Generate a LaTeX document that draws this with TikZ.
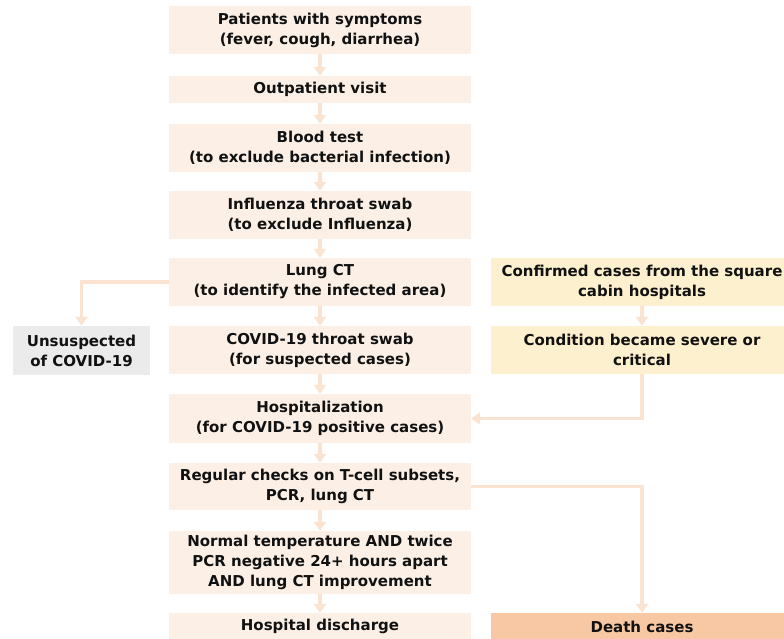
\documentclass[tikz,border=0pt]{standalone}
\usepackage{fontspec}
\setmainfont{DejaVu Sans}
\usetikzlibrary{arrows.meta}
\definecolor{boxfill}{HTML}{FCF0E6}
\definecolor{arrowc}{HTML}{FBE3D2}
\definecolor{yellowfill}{HTML}{FDF0CE}
\definecolor{deathfill}{HTML}{F8C8A5}
\definecolor{greyfill}{HTML}{EBEBEB}
\definecolor{txt}{HTML}{111111}
\begin{document}
\begin{tikzpicture}[x=1pt,y=-1pt,
  box/.style={rectangle, fill=boxfill, minimum width=302pt, inner sep=0pt, align=center,
    font=\bfseries\fontsize{15}{20}\selectfont, text=txt},
  ybox/.style={box, fill=yellowfill},
  flow/.style={draw=arrowc, line width=3.5pt, -{Triangle[width=12pt,length=9pt]}}]
\useasboundingbox (0,0) rectangle (784,638);
\clip (0,0) rectangle (784,638);
\node[box, minimum height=48pt] (b1) at (320,30) {Patients with symptoms\\(fever, cough, diarrhea)};
\node[box, minimum height=27pt] (b2) at (320,89.5) {Outpatient visit};
\node[box, minimum height=48pt] (b3) at (320,148) {Blood test\\(to exclude bacterial infection)};
\node[box, minimum height=48pt] (b4) at (320,215) {Influenza throat swab\\(to exclude Influenza)};
\node[box, minimum height=48pt] (b5) at (320,282) {Lung CT\\(to identify the infected area)};
\node[box, minimum height=48pt] (b6) at (320,350) {COVID-19 throat swab\\(for suspected cases)};
\node[box, minimum height=49pt] (b7) at (320,418.5) {Hospitalization\\(for COVID-19 positive cases)};
\node[box, minimum height=47pt] (b8) at (320,486.5) {Regular checks on T-cell subsets,\\PCR, lung CT};
\node[box, minimum height=63pt] (b9) at (320,562.5) {Normal temperature AND twice\\PCR negative 24+ hours apart\\AND lung CT improvement};
\node[box, minimum height=27pt] (b10) at (320,626.5) {Hospital discharge};
\node[box, fill=greyfill, minimum width=137pt, minimum height=49pt] (uns) at (81.5,350.5) {Unsuspected\\of COVID-19};
\node[ybox, minimum height=48pt] (conf) at (642,282) {Confirmed cases from the square\\cabin hospitals};
\node[ybox, minimum height=48pt] (cond) at (642,350) {Condition became severe or\\critical};
\node[box, fill=deathfill, minimum height=27pt] (death) at (642,626.5) {Death cases};
\foreach \a/\b in {b1/b2,b2/b3,b3/b4,b4/b5,b5/b6,b6/b7,b7/b8,b8/b9,b9/b10,conf/cond}
  \draw[flow] (\a.south) -- (\b.north);
\draw[flow] (b5.west) -| (uns.north);
\draw[flow] (cond.south) |- (b7.east);
\draw[flow] (b8.east) -| (death.north);
\end{tikzpicture}
\end{document}
